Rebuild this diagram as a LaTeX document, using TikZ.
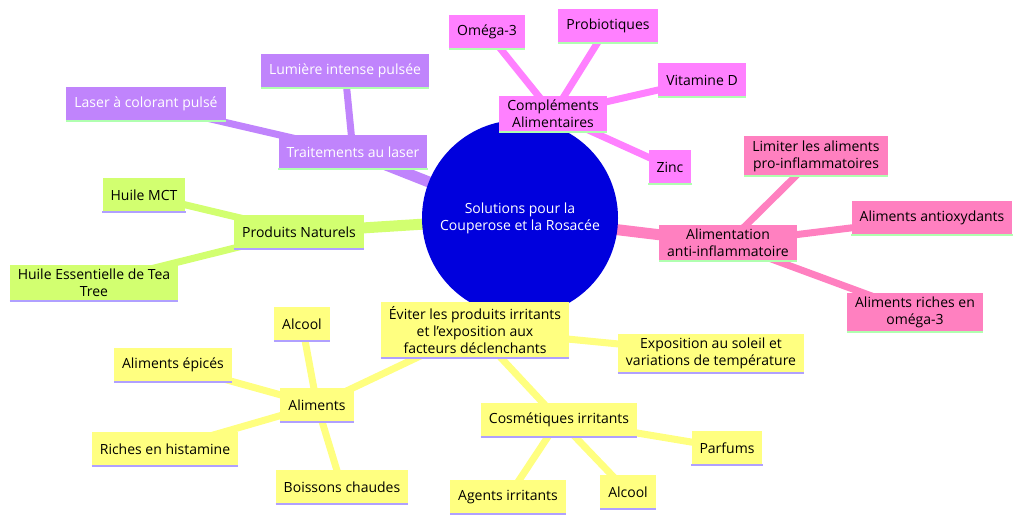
\documentclass[tikz,border=0pt]{standalone}
\usepackage{fontspec}
\setmainfont{Open Sans}
\usetikzlibrary{backgrounds}
\definecolor{cpur}{HTML}{C084FC}
\definecolor{cmag}{HTML}{FF80FF}
\definecolor{cpink}{HTML}{FF80C0}
\definecolor{cgrn}{HTML}{D2FF70}
\definecolor{cyel}{HTML}{FFFF80}
\definecolor{cblue}{HTML}{0000DD}
\definecolor{lgr}{HTML}{B0FFB0}
\definecolor{lpu}{HTML}{B0A0FF}
\tikzset{
 box/.style={inner xsep=8pt, inner ysep=4pt, minimum height=34pt, align=center, font=\fontsize{14}{17}\selectfont},
 pur/.style={box, fill=cpur, text=white},
 mag/.style={box, fill=cmag},
 pink/.style={box, fill=cpink},
 grn/.style={box, fill=cgrn},
 yel/.style={box, fill=cyel},
 ed/.style={line width=7pt},
 med/.style={line width=11pt},
}
\begin{document}
\begin{tikzpicture}[x=1pt,y=-1pt]
\useasboundingbox (0,0) rectangle (1024,526);
\node[circle, fill=cblue, minimum size=196pt, text=white, align=center, font=\fontsize{14}{17}\selectfont] (c) at (520,218) {Solutions pour la\\Couperose et la Rosacée};
% purple
\node[pur] (t) at (353,152) {Traitements au laser};
\node[pur] (t1) at (345,71) {Lumière intense pulsée};
\node[pur] (t2) at (146,104) {Laser à colorant pulsé};
% magenta
\node[mag] (m) at (553,114) {Compléments\\Alimentaires};
\node[mag] (m1) at (487,32) {Oméga-3};
\node[mag] (m2) at (608,26) {Probiotiques};
\node[mag] (m3) at (702,80) {Vitamine D};
\node[mag] (m4) at (670,167) {Zinc};
% pink
\node[pink] (p) at (728,243) {Alimentation\\anti-inflammatoire};
\node[pink] (p1) at (816,156) {Limiter les aliments\\pro-inflammatoires};
\node[pink] (p2) at (932,218) {Aliments antioxydants};
\node[pink] (p3) at (915,312) {Aliments riches en\\oméga-3};
% green
\node[grn] (g) at (299,232) {Produits Naturels};
\node[grn] (g1) at (144,195) {Huile MCT};
\node[grn] (g2) at (94,283) {Huile Essentielle de Tea\\Tree};
% yellow
\node[yel] (y) at (475,330) {Éviter les produits irritants\\et l'exposition aux\\facteurs déclenchants};
\node[yel] (y1) at (711,353) {Exposition au soleil et\\variations de température};
\node[yel] (a) at (317,405) {Aliments};
\node[yel] (a1) at (302,324) {Alcool};
\node[yel] (a2) at (173,365) {Aliments épicés};
\node[yel] (a3) at (165,449) {Riches en histamine};
\node[yel] (a4) at (342,487) {Boissons chaudes};
\node[yel] (k) at (559,420) {Cosmétiques irritants};
\node[yel] (k1) at (727,448) {Parfums};
\node[yel] (k2) at (628,492) {Alcool};
\node[yel] (k3) at (508,497) {Agents irritants};
\begin{scope}[on background layer]
\draw[med,cpur] (c.center) -- (t.center);
\draw[ed,cpur] (t.center) -- (t1.center) (t.center) -- (t2.center);
\draw[med,cmag] (c.center) -- (m.center);
\foreach \n in {m1,m2,m3,m4} \draw[ed,cmag] (m.center) -- (\n.center);
\draw[med,cpink] (c.center) -- (p.center);
\foreach \n in {p1,p2,p3} \draw[ed,cpink] (p.center) -- (\n.center);
\draw[med,cgrn] (c.center) -- (g.center);
\foreach \n in {g1,g2} \draw[ed,cgrn] (g.center) -- (\n.center);
\draw[med,cyel] (c.center) -- (y.center);
\foreach \n in {y1,a,k} \draw[ed,cyel] (y.center) -- (\n.center);
\foreach \n in {a1,a2,a3,a4} \draw[ed,cyel] (a.center) -- (\n.center);
\foreach \n in {k1,k2,k3} \draw[ed,cyel] (k.center) -- (\n.center);
\end{scope}
\foreach \n/\col in {t/lgr,t1/lgr,t2/lgr,m/lgr,m1/lgr,m2/lgr,m3/lgr,m4/lgr,p/lgr,p1/lgr,p2/lgr,p3/lgr,g/lpu,g1/lpu,g2/lpu,y/lpu,y1/lpu,a/lpu,a1/lpu,a2/lpu,a3/lpu,a4/lpu,k/lpu,k1/lpu,k2/lpu,k3/lpu}
  \draw[line width=2pt,color=\col] (\n.south west) -- (\n.south east);
\end{tikzpicture}
\end{document}
